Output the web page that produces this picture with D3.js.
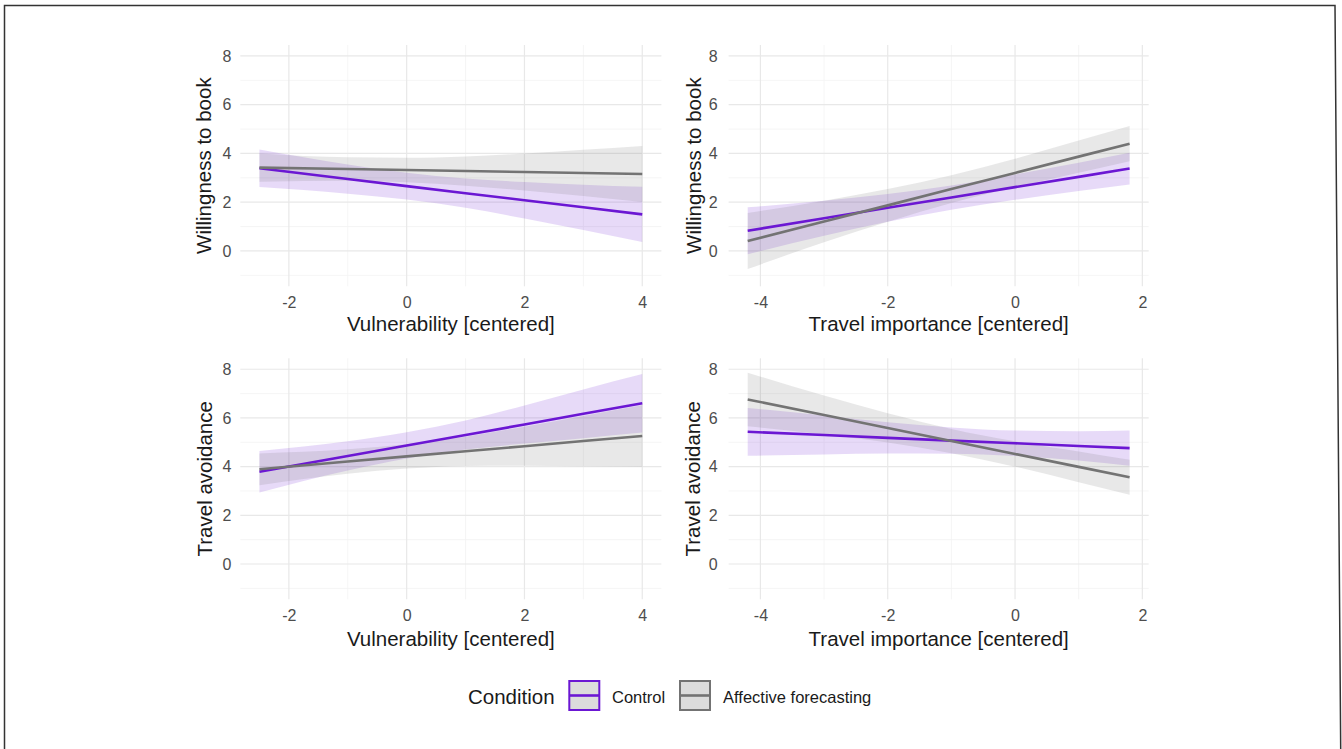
<!DOCTYPE html>
<html><head><meta charset="utf-8">
<script src="https://cdn.jsdelivr.net/npm/d3@7"></script>
<style>
body{margin:0;background:#fff;}
svg{display:block;}
text{font-family:"Liberation Sans", Arial, Helvetica, sans-serif;}
</style>
</head><body>
<svg id="chart" width="1342" height="749"></svg>
<script>
// ---------------- DATA ----------------
const conditions = ["Control", "Affective forecasting"];
const legendTitle = "Condition";
const yTitles = ["Willingness to book", "Travel avoidance"];
const xTitles = ["Vulnerability [centered]", "Travel importance [centered]"];

const yMajorTicks = [0, 2, 4, 6, 8];
const yMinorTicks = [-1, 1, 3, 5, 7];
const vulnMajorTicks = [-2, 0, 2, 4];
const vulnMinorTicks = [-1, 1, 3];
const travMajorTicks = [-4, -2, 0, 2];
const travMinorTicks = [-3, -1, 1];

// x positions where estimates were read
const vulnX = [-2.5, -1, 0, 1, 2, 3, 4];
const travX = [-4.2, -3, -2, -1, 0, 1, 1.8];

// Panel A: Willingness to book ~ Vulnerability
const bookVulnCtrlFit = [3.39, 2.95, 2.66, 2.37, 2.08, 1.79, 1.50];
const bookVulnCtrlLo  = [2.62, 2.35, 2.11, 1.77, 1.33, 0.86, 0.37];
const bookVulnCtrlHi  = [4.16, 3.55, 3.21, 2.97, 2.83, 2.72, 2.63];
const bookVulnAffFit  = [3.42, 3.36, 3.32, 3.28, 3.24, 3.20, 3.16];
const bookVulnAffLo   = [2.84, 2.88, 2.82, 2.68, 2.48, 2.25, 2.01];
const bookVulnAffHi   = [4.00, 3.84, 3.82, 3.88, 4.00, 4.15, 4.31];

// Panel B: Willingness to book ~ Travel importance
const bookTravCtrlFit = [0.83, 1.34, 1.77, 2.19, 2.62, 3.04, 3.38];
const bookTravCtrlLo  = [-0.13, 0.62, 1.20, 1.69, 2.10, 2.46, 2.73];
const bookTravCtrlHi  = [1.79, 2.06, 2.34, 2.69, 3.14, 3.62, 4.03];
const bookTravAffFit  = [0.41, 1.21, 1.87, 2.54, 3.20, 3.87, 4.40];
const bookTravAffLo   = [-0.74, 0.36, 1.20, 1.97, 2.62, 3.21, 3.68];
const bookTravAffHi   = [1.56, 2.06, 2.54, 3.11, 3.78, 4.53, 5.13];

// Panel C: Travel avoidance ~ Vulnerability
const avoidVulnCtrlFit = [3.79, 4.44, 4.87, 5.30, 5.73, 6.17, 6.60];
const avoidVulnCtrlLo  = [2.94, 3.84, 4.33, 4.70, 4.95, 5.17, 5.40];
const avoidVulnCtrlHi  = [4.64, 5.04, 5.41, 5.90, 6.51, 7.17, 7.80];
const avoidVulnAffFit  = [3.89, 4.21, 4.42, 4.63, 4.84, 5.05, 5.26];
const avoidVulnAffLo   = [3.24, 3.71, 3.92, 4.03, 4.04, 4.02, 4.00];
const avoidVulnAffHi   = [4.54, 4.71, 4.92, 5.23, 5.64, 6.08, 6.52];

// Panel D: Travel avoidance ~ Travel importance
const avoidTravCtrlFit = [5.43, 5.30, 5.18, 5.07, 4.96, 4.85, 4.76];
const avoidTravCtrlLo  = [4.45, 4.50, 4.54, 4.53, 4.44, 4.25, 4.04];
const avoidTravCtrlHi  = [6.41, 6.10, 5.82, 5.61, 5.48, 5.45, 5.48];
const avoidTravAffFit  = [6.76, 6.12, 5.59, 5.05, 4.52, 3.99, 3.56];
const avoidTravAffLo   = [5.66, 5.32, 4.99, 4.55, 4.00, 3.36, 2.84];
const avoidTravAffHi   = [7.86, 6.92, 6.19, 5.55, 5.04, 4.62, 4.28];

// ---------------- STYLE / LAYOUT ----------------
const colors = {"Control": "#6b17d3", "Affective forecasting": "#737373"};
const ribbonOpacity = 0.16;

const svg = d3.select("#chart");

// outer frame
svg.append("path")
  .attr("d", "M4.5,749 L4.5,5.5 L1335,5.5 L1340.7,749")
  .attr("fill", "none").attr("stroke", "#333").attr("stroke-width", 1.5);

const xVuln = () => d3.scaleLinear().domain([-2.825, 4.325]).range([240.3, 661.4]);
const xTrav = () => d3.scaleLinear().domain([-4.5, 2.1]).range([728.6, 1148.7]);
const yTopRow = () => d3.scaleLinear().domain([-1.45, 8.45]).range([286.3, 45]);
const yBotRow = () => d3.scaleLinear().domain([-1.45, 8.45]).range([599.3, 358.3]);

function series(xs, fit, lo, hi) {
  return xs.map((x, i) => ({x, fit: fit[i], lo: lo[i], hi: hi[i]}));
}

const panels = [
  {x: xVuln(), y: yTopRow(), major: vulnMajorTicks, minor: vulnMinorTicks,
   xTitle: xTitles[0], yTitle: yTitles[0], yTitleX: 211, yPad: 9, xTitleY: 331,
   data: [series(vulnX, bookVulnCtrlFit, bookVulnCtrlLo, bookVulnCtrlHi),
          series(vulnX, bookVulnAffFit, bookVulnAffLo, bookVulnAffHi)]},
  {x: xTrav(), y: yTopRow(), major: travMajorTicks, minor: travMinorTicks,
   xTitle: xTitles[1], yTitle: yTitles[0], yTitleX: 701, yPad: 11, xTitleY: 331,
   data: [series(travX, bookTravCtrlFit, bookTravCtrlLo, bookTravCtrlHi),
          series(travX, bookTravAffFit, bookTravAffLo, bookTravAffHi)]},
  {x: xVuln(), y: yBotRow(), major: vulnMajorTicks, minor: vulnMinorTicks,
   xTitle: xTitles[0], yTitle: yTitles[1], yTitleX: 212, yPad: 9, xTitleY: 646,
   data: [series(vulnX, avoidVulnCtrlFit, avoidVulnCtrlLo, avoidVulnCtrlHi),
          series(vulnX, avoidVulnAffFit, avoidVulnAffLo, avoidVulnAffHi)]},
  {x: xTrav(), y: yBotRow(), major: travMajorTicks, minor: travMinorTicks,
   xTitle: xTitles[1], yTitle: yTitles[1], yTitleX: 700, yPad: 11, xTitleY: 646,
   data: [series(travX, avoidTravCtrlFit, avoidTravCtrlLo, avoidTravCtrlHi),
          series(travX, avoidTravAffFit, avoidTravAffLo, avoidTravAffHi)]}
];

panels.forEach(p => {
  const g = svg.append("g");
  const [x0, x1] = p.x.range();
  const [y0, y1] = p.y.range(); // y0 bottom, y1 top

  // minor grid
  g.selectAll(".hmin").data(yMinorTicks).join("line")
    .attr("x1", x0).attr("x2", x1).attr("y1", d => p.y(d)).attr("y2", d => p.y(d))
    .attr("stroke", "#f2f2f2").attr("stroke-width", 0.8);
  g.selectAll(".vmin").data(p.minor).join("line")
    .attr("y1", y1).attr("y2", y0).attr("x1", d => p.x(d)).attr("x2", d => p.x(d))
    .attr("stroke", "#f2f2f2").attr("stroke-width", 0.8);
  // major grid
  g.selectAll(".hmaj").data(yMajorTicks).join("line")
    .attr("x1", x0).attr("x2", x1).attr("y1", d => p.y(d)).attr("y2", d => p.y(d))
    .attr("stroke", "#e8e8e8").attr("stroke-width", 1.2);
  g.selectAll(".vmaj").data(p.major).join("line")
    .attr("y1", y1).attr("y2", y0).attr("x1", d => p.x(d)).attr("x2", d => p.x(d))
    .attr("stroke", "#e8e8e8").attr("stroke-width", 1.2);

  // ribbons
  const area = d3.area().x(d => p.x(d.x)).y0(d => p.y(d.lo)).y1(d => p.y(d.hi)).curve(d3.curveMonotoneX);
  p.data.forEach((s, i) => {
    g.append("path").datum(s).attr("d", area)
      .attr("fill", colors[conditions[i]]).attr("fill-opacity", ribbonOpacity);
  });
  // lines
  const line = d3.line().x(d => p.x(d.x)).y(d => p.y(d.fit));
  p.data.forEach((s, i) => {
    g.append("path").datum(s).attr("d", line)
      .attr("fill", "none").attr("stroke", colors[conditions[i]]).attr("stroke-width", 2.6);
  });

  // axes
  const ax = g.append("g").attr("transform", `translate(0,${y0})`)
    .call(d3.axisBottom(p.x).tickValues(p.major).tickSize(0).tickPadding(10).tickFormat(d3.format("d")));
  const ay = g.append("g").attr("transform", `translate(${x0},0)`)
    .call(d3.axisLeft(p.y).tickValues(yMajorTicks).tickSize(0).tickPadding(p.yPad).tickFormat(d3.format("d")));
  [ax, ay].forEach(a => {
    a.select(".domain").remove();
    a.selectAll("text").attr("fill", "#4d4d4d").style("font-size", "16px")
      .style("font-family", '"Liberation Sans", Arial, sans-serif');
  });
  ax.selectAll("text").text(d => d < 0 ? "-" + Math.abs(d) : d);
  ay.selectAll("text").text(d => d < 0 ? "-" + Math.abs(d) : d);

  // titles
  g.append("text").attr("x", (x0 + x1) / 2).attr("y", p.xTitleY)
    .attr("text-anchor", "middle").attr("fill", "#1a1a1a").style("font-size", "20.5px")
    .text(p.xTitle);
  g.append("text").attr("transform", `translate(${p.yTitleX},${(y0 + y1) / 2}) rotate(-90)`)
    .attr("text-anchor", "middle").attr("fill", "#1a1a1a").style("font-size", "20.5px")
    .text(p.yTitle);
});

// ---------------- LEGEND ----------------
const lg = svg.append("g");
lg.append("text").attr("x", 468).attr("y", 704).attr("fill", "#1a1a1a")
  .style("font-size", "20.5px").text(legendTitle);
const keyX = [569.3, 680];
const labelX = [612, 723];
conditions.forEach((c, i) => {
  lg.append("rect").attr("x", keyX[i]).attr("y", 681).attr("width", 30).attr("height", 29)
    .attr("fill", "#dcdcdc").attr("stroke", colors[c]).attr("stroke-width", 2);
  lg.append("line").attr("x1", keyX[i]).attr("x2", keyX[i] + 30).attr("y1", 695.5).attr("y2", 695.5)
    .attr("stroke", colors[c]).attr("stroke-width", 2.6);
  lg.append("text").attr("x", labelX[i]).attr("y", 702.7).attr("fill", "#1a1a1a")
    .style("font-size", "16.5px").text(c);
});
</script>
</body></html>
